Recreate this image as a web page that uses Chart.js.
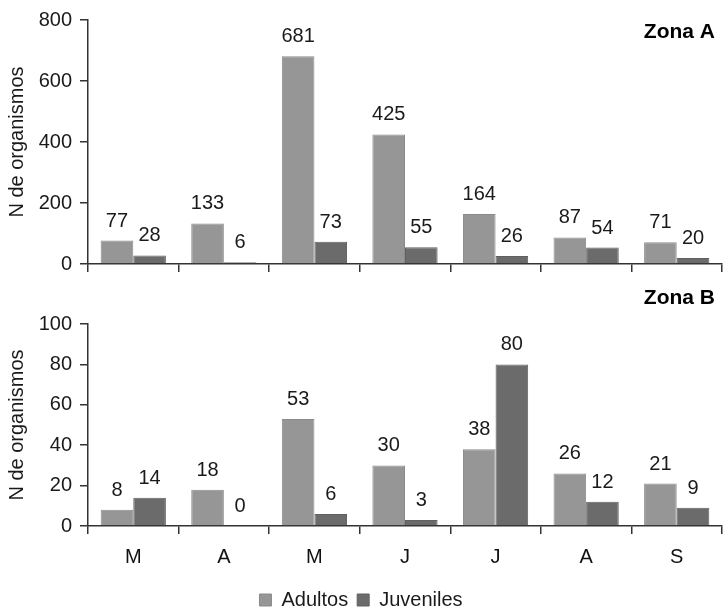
<!DOCTYPE html>
<html>
<head>
<meta charset="utf-8">
<script src="https://cdn.jsdelivr.net/npm/chart.js@4/dist/chart.umd.min.js"></script>
<style>
  html, body { margin: 0; padding: 0; background: #fff; overflow: hidden; }
  #wrapA { position: absolute; left: 0; top: 0; width: 724px; height: 290px; }
  #wrapB { position: absolute; left: 0; top: 290px; width: 724px; height: 330px; }
</style>
</head>
<body>
<div id="wrapA"><canvas id="chartA"></canvas></div>
<div id="wrapB"><canvas id="chartB"></canvas></div>
<script>
const meses = ['M', 'A', 'M', 'J', 'J', 'A', 'S'];
const adultosA = [77, 133, 681, 425, 164, 87, 71];
const juvenilesA = [28, 6, 73, 55, 26, 54, 20];
const adultosB = [8, 18, 53, 30, 38, 26, 21];
const juvenilesB = [14, 0, 6, 3, 80, 12, 9];

const colAdultos = '#969696';
const colJuveniles = '#6b6b6b';
const fontFam = '"Liberation Sans", Arial, sans-serif';

Chart.defaults.font.family = fontFam;
Chart.defaults.color = '#1a1a1a';
Chart.defaults.animation = false;

// numbers above bars + zone label
const barLabels = {
    id: 'barLabels',
    afterDatasetsDraw(chart, args, opts) {
        const ctx = chart.ctx;
        ctx.save();
        ctx.font = '20px ' + fontFam;
        ctx.fillStyle = '#1a1a1a';
        ctx.textAlign = 'center';
        ctx.textBaseline = 'alphabetic';
        chart.data.datasets.forEach((ds, i) => {
            chart.getDatasetMeta(i).data.forEach((bar, j) => {
                ctx.fillText(String(ds.data[j]), bar.x, bar.y - 14);
            });
        });
        if (opts.zona) {
            ctx.font = 'bold 21px ' + fontFam;
            ctx.fillStyle = '#000';
            ctx.textAlign = 'right';
            ctx.textBaseline = 'middle';
            ctx.fillText(opts.zona, 715, opts.zonaY);
        }
        ctx.restore();
    }
};

function makeChart(id, adultos, juveniles, max, step, zona, zonaY, showX) {
    return new Chart(document.getElementById(id), {
        type: 'bar',
        data: {
            labels: meses,
            datasets: [
                { label: 'Adultos', data: adultos, backgroundColor: colAdultos,
                  borderColor: '#8a8a8a', borderWidth: 1 },
                { label: 'Juveniles', data: juveniles, backgroundColor: colJuveniles,
                  borderColor: '#606060', borderWidth: 1 }
            ]
        },
        options: {
            responsive: true,
            maintainAspectRatio: false,
            categoryPercentage: 0.72,
            barPercentage: 1.0,
            layout: { padding: showX ? { top: 34, right: 2, bottom: 0 } : { top: 14, right: 2, bottom: 18 } },
            plugins: {
                legend: {
                    display: showX,
                    position: 'bottom',
                    labels: { boxWidth: 12, boxHeight: 12, padding: 9, font: { size: 20 }, color: '#1a1a1a' }
                },
                tooltip: { enabled: false },
                barLabels: { zona: zona, zonaY: zonaY }
            },
            scales: {
                x: {
                    afterFit(scale) { if (showX) scale.height += 1; },
                    grid: { display: true, drawOnChartArea: false, offset: true, tickLength: 8, color: '#333', lineWidth: 1.5 },
                    border: { display: true, color: '#333', width: 1.5 },
                    ticks: { display: showX, padding: 11, font: { size: 20 }, color: '#111' }
                },
                y: {
                    min: 0, max: max,
                    afterFit(scale) { scale.width = 88; },
                    grid: { display: true, drawOnChartArea: false, tickLength: 8, color: '#333', lineWidth: 1.5 },
                    border: { display: true, color: '#333', width: 1.5 },
                    ticks: { stepSize: step, padding: 8, font: { size: 20 }, color: '#1a1a1a' },
                    title: { display: true, text: 'N de organismos', font: { size: 20 }, color: '#1a1a1a', padding: { top: 5, bottom: 0 } }
                }
            }
        },
        plugins: [barLabels]
    });
}

makeChart('chartA', adultosA, juvenilesA, 800, 200, 'Zona A', 32, false);
makeChart('chartB', adultosB, juvenilesB, 100, 20, 'Zona B', 8, true);
</script>
</body>
</html>
